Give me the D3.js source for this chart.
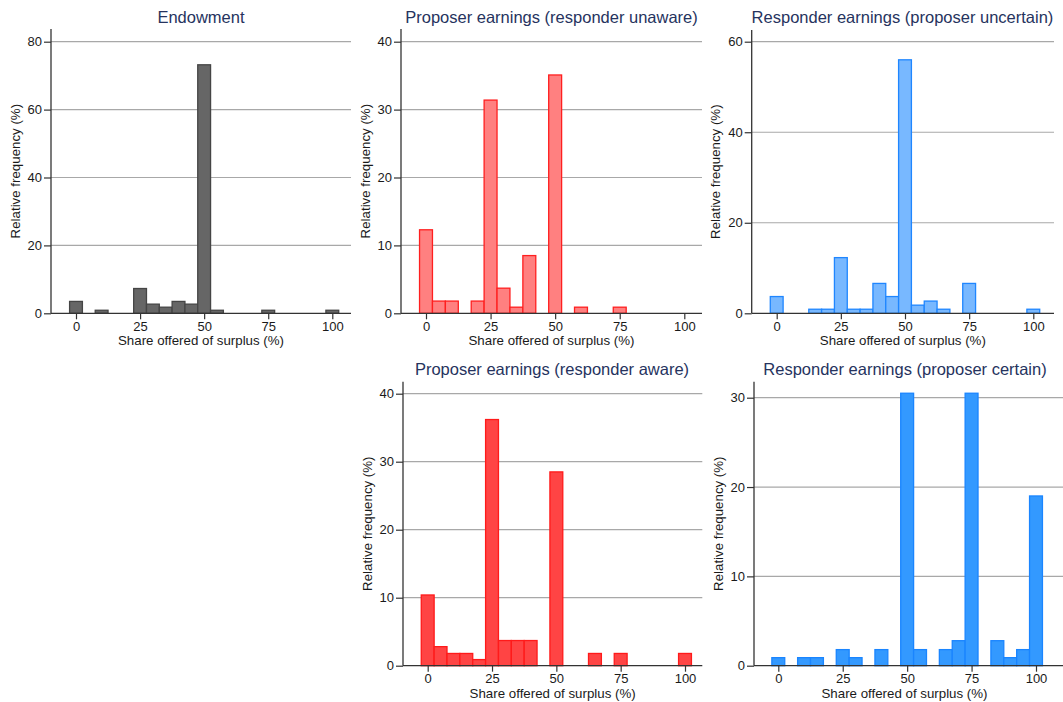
<!DOCTYPE html>
<html>
<head>
<meta charset="utf-8">
<script src="https://cdn.jsdelivr.net/npm/d3@7"></script>
<style>
  html, body { margin: 0; padding: 0; background: #ffffff; }
  svg { display: block; }
  text { font-family: "Liberation Sans", Arial, Helvetica, sans-serif; }
</style>
</head>
<body>
<svg id="chart" width="1063" height="702"></svg>
<script>
// Offer bins (share of surplus, %), each 5 points wide
const binCenters = [0, 5, 10, 15, 20, 25, 30, 35, 40, 45, 50, 55, 60, 65, 70, 75, 80, 85, 90, 95, 100];
const xTicks = [0, 25, 50, 75, 100];

// Relative frequency (%) per bin
const endowment = [3.5, 0, 0.9, 0, 0, 7.3, 2.7, 1.8, 3.5, 2.7, 73.2, 0.9, 0, 0, 0, 0.9, 0, 0, 0, 0, 0.9];
const proposerUnaware = [12.3, 1.8, 1.8, 0, 1.8, 31.4, 3.7, 0.9, 8.5, 0, 35.1, 0, 0.9, 0, 0, 0.9, 0, 0, 0, 0, 0];
const responderUncertain = [3.7, 0, 0, 0.9, 0.9, 12.3, 0.9, 0.9, 6.6, 3.7, 56.0, 1.8, 2.7, 0.9, 0, 6.6, 0, 0, 0, 0, 0.9];
const proposerAware = [10.4, 2.8, 1.8, 1.8, 0.9, 36.2, 3.7, 3.7, 3.7, 0, 28.5, 0, 0, 1.8, 0, 1.8, 0, 0, 0, 0, 1.8];
const responderCertain = [0.9, 0, 0.9, 0.9, 0, 1.8, 0.9, 0, 1.8, 0, 30.5, 1.8, 0, 1.8, 2.8, 30.5, 0, 2.8, 0.9, 1.8, 19.0];

// Panel titles and y tick labels
const titles = [
  "Endowment",
  "Proposer earnings (responder unaware)",
  "Responder earnings (proposer uncertain)",
  "Proposer earnings (responder aware)",
  "Responder earnings (proposer certain)"
];
const yTicksEndowment = [0, 20, 40, 60, 80];
const yTicksUnaware = [0, 10, 20, 30, 40];
const yTicksUncertain = [0, 20, 40, 60];
const yTicksAware = [0, 10, 20, 30, 40];
const yTicksCertain = [0, 10, 20, 30];

const xTitle = "Share offered of surplus (%)";
const yTitle = "Relative frequency (%)";

// Panel geometry and styling
const panels = [
  { values: endowment, title: titles[0], yTicks: yTicksEndowment,
    left: 51, right: 351, x0: 76, x100: 332.3, yBase: 313.3, yTopPx: 41.7, top: 29, titleX: 201,
    fill: "#666666", stroke: "#454545" },
  { values: proposerUnaware, title: titles[1], yTicks: yTicksUnaware,
    left: 401, right: 702, x0: 426, x100: 684.3, yBase: 313.3, yTopPx: 41.7, top: 29, titleX: 551.5,
    fill: "#ff8080", stroke: "#ff1f1f" },
  { values: responderUncertain, title: titles[2], yTicks: yTicksUncertain,
    left: 751.7, right: 1054, x0: 776.7, x100: 1033.3, yBase: 313.3, yTopPx: 41.7, top: 30, titleX: 902.5,
    fill: "#78b8ff", stroke: "#1f86ff" },
  { values: proposerAware, title: titles[3], yTicks: yTicksAware,
    left: 403, right: 702.3, x0: 427.7, x100: 685, yBase: 665.7, yTopPx: 393.7, top: 381.7, titleX: 552,
    fill: "#ff4444", stroke: "#ff1a1a" },
  { values: responderCertain, title: titles[4], yTicks: yTicksCertain,
    left: 754, right: 1063, x0: 778.3, x100: 1036, yBase: 665.7, yTopPx: 397.7, top: 381.7, titleX: 905,
    fill: "#3399ff", stroke: "#1a85ff" }
];

const svg = d3.select("#chart");
const gridColor = "#a8a8a8";
const axisColor = "#333333";
const textColor = "#1a1a1a";

panels.forEach(p => {
  const g = svg.append("g");
  const x = d3.scaleLinear().domain([0, 100]).range([p.x0, p.x100]);
  const yMax = d3.max(p.yTicks);
  const y = d3.scaleLinear().domain([0, yMax]).range([p.yBase, p.yTopPx]);

  // horizontal grid lines
  g.selectAll("line.grid")
    .data(p.yTicks.filter(t => t > 0))
    .join("line")
    .attr("class", "grid")
    .attr("x1", p.left).attr("x2", p.right)
    .attr("y1", d => y(d)).attr("y2", d => y(d))
    .attr("stroke", gridColor).attr("stroke-width", 1.2);

  // histogram bars
  const bins = binCenters.map((c, i) => ({ c, v: p.values[i] })).filter(d => d.v > 0);
  g.selectAll("rect.bar")
    .data(bins)
    .join("rect")
    .attr("class", "bar")
    .attr("x", d => x(d.c - 2.5))
    .attr("width", d => x(d.c + 2.5) - x(d.c - 2.5))
    .attr("y", d => y(d.v))
    .attr("height", d => y(0) - y(d.v))
    .attr("fill", p.fill)
    .attr("stroke", p.stroke)
    .attr("stroke-width", 1.3);

  // x axis
  const xAxis = g.append("g")
    .attr("transform", `translate(0,${p.yBase})`)
    .call(d3.axisBottom(x).tickValues(xTicks).tickSize(6).tickPadding(2).tickSizeOuter(0));
  xAxis.select(".domain").remove();
  xAxis.selectAll(".tick line").attr("stroke", axisColor).attr("stroke-width", 1.2);
  xAxis.selectAll(".tick text").attr("fill", textColor).style("font-size", "13px")
    .style("font-family", "'Liberation Sans', Arial, sans-serif");
  g.append("line")
    .attr("x1", p.left).attr("x2", p.right)
    .attr("y1", p.yBase).attr("y2", p.yBase)
    .attr("stroke", axisColor).attr("stroke-width", 1.3);

  // y axis
  const yAxis = g.append("g")
    .attr("transform", `translate(${p.left},0)`)
    .call(d3.axisLeft(y).tickValues(p.yTicks).tickSize(7).tickPadding(2).tickSizeOuter(0));
  yAxis.select(".domain").remove();
  yAxis.selectAll(".tick line").attr("stroke", axisColor).attr("stroke-width", 1.2);
  yAxis.selectAll(".tick text").attr("fill", textColor).style("font-size", "13px")
    .style("font-family", "'Liberation Sans', Arial, sans-serif");
  g.append("line")
    .attr("x1", p.left).attr("x2", p.left)
    .attr("y1", p.top).attr("y2", p.yBase)
    .attr("stroke", axisColor).attr("stroke-width", 1.3);

  // panel title
  g.append("text")
    .attr("x", p.titleX).attr("y", p.yBase - 290.5)
    .attr("text-anchor", "middle")
    .attr("fill", "#26335e")
    .style("font-size", "16.5px")
    .text(p.title);

  // axis titles
  g.append("text")
    .attr("x", (p.left + p.right) / 2 - (p.right > 1060 ? 4 : 0))
    .attr("y", p.yBase + 32)
    .attr("text-anchor", "middle")
    .attr("fill", textColor)
    .style("font-size", "13.3px")
    .text(xTitle);

  g.append("text")
    .attr("transform", `translate(${p.left - 31.5},${(p.top + p.yBase) / 2}) rotate(-90)`)
    .attr("text-anchor", "middle")
    .attr("fill", textColor)
    .style("font-size", "13.3px")
    .text(yTitle);
});
</script>
</body>
</html>
